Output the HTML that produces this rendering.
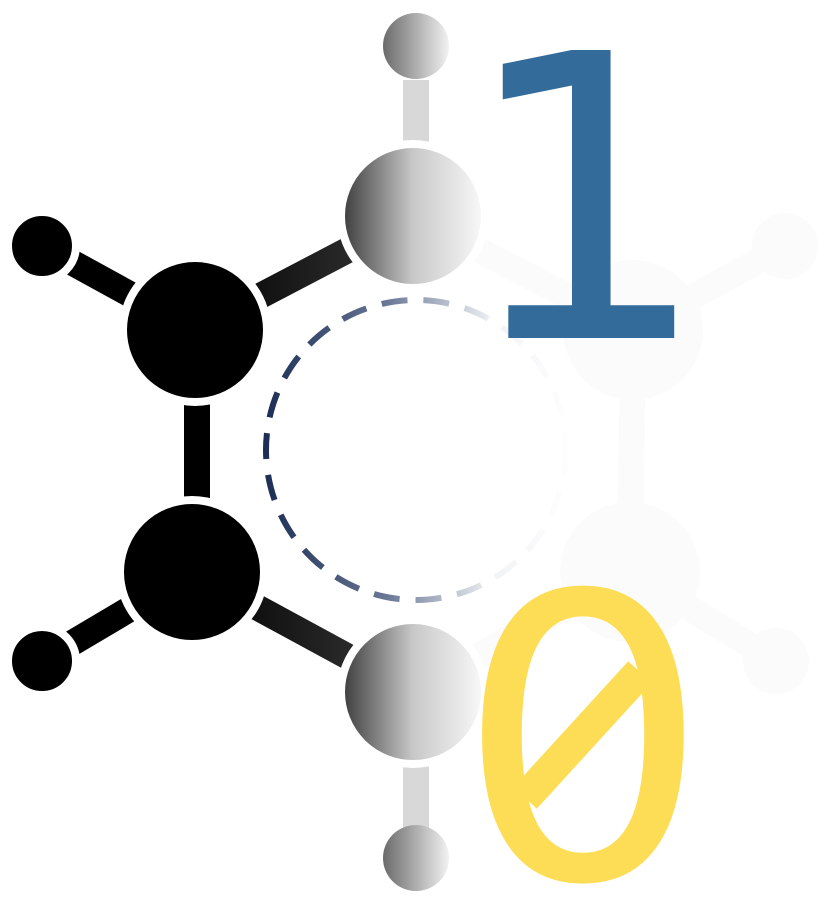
<!DOCTYPE html>
<html><head><meta charset="utf-8"><style>
html,body{margin:0;padding:0;background:#fff;width:828px;height:914px;overflow:hidden;}
svg{display:block;}
</style></head><body>
<svg width="828" height="914" viewBox="0 0 828 914" overflow="hidden">
<defs>
<linearGradient id="g1" x1="0" x2="1" y1="0" y2="0">
<stop offset="0" stop-color="#3a3a3a"/><stop offset="0.5" stop-color="#c8c8c8"/><stop offset="1" stop-color="#fafafa"/>
</linearGradient>
<linearGradient id="gH" x1="0" x2="1" y1="0" y2="0">
<stop offset="0" stop-color="#6a6a6a"/><stop offset="1" stop-color="#f2f2f2"/>
</linearGradient>
<linearGradient id="gb" x1="0" x2="1" y1="0" y2="0">
<stop offset="0" stop-color="#000"/><stop offset="1" stop-color="#3a3a3a"/>
</linearGradient>
<linearGradient id="gc" x1="265" x2="570" y1="0" y2="0" gradientUnits="userSpaceOnUse">
<stop offset="0" stop-color="#1c2e55"/><stop offset="0.4" stop-color="#6a7896"/><stop offset="0.75" stop-color="#f2f3f6"/><stop offset="1" stop-color="#fefefe"/>
</linearGradient>
</defs>
<g stroke="#fbfbfb" stroke-width="26" fill="#fbfbfb">
<line x1="413" y1="216" x2="633" y2="330"/>
<line x1="633" y1="330" x2="630" y2="572"/>
<line x1="630" y1="572" x2="413" y2="692"/>
<line x1="633" y1="330" x2="785" y2="246"/>
<line x1="630" y1="572" x2="776" y2="661"/>
<circle cx="633" cy="330" r="70" stroke="none"/>
<circle cx="630" cy="572" r="70" stroke="none"/>
<circle cx="785" cy="246" r="33" stroke="none"/>
<circle cx="776" cy="661" r="33" stroke="none"/>
</g>
<circle cx="416" cy="450" r="150" fill="none" stroke="url(#gc)" stroke-width="6" stroke-dasharray="26 16"/>
<g stroke-linecap="butt">
<line x1="416" y1="80" x2="416" y2="150" stroke="#fff" stroke-width="36"/>
<line x1="416" y1="80" x2="416" y2="150" stroke="#d8d8d8" stroke-width="26"/>
<line x1="416" y1="760" x2="416" y2="830" stroke="#fff" stroke-width="36"/>
<line x1="416" y1="760" x2="416" y2="830" stroke="#d8d8d8" stroke-width="26"/>
<line x1="42" y1="246" x2="195" y2="330" stroke="#fff" stroke-width="36"/>
<line x1="42" y1="246" x2="195" y2="330" stroke="#000" stroke-width="26"/>
<line x1="42" y1="661" x2="192" y2="572" stroke="#fff" stroke-width="36"/>
<line x1="42" y1="661" x2="192" y2="572" stroke="#000" stroke-width="26"/>
<line x1="197" y1="330" x2="197" y2="572" stroke="#fff" stroke-width="38"/>
<line x1="197" y1="330" x2="197" y2="572" stroke="#000" stroke-width="26"/>
<line x1="195" y1="330" x2="413" y2="216" stroke="#fff" stroke-width="36"/>
<line x1="195" y1="330" x2="413" y2="216" stroke="url(#gb)" stroke-width="26"/>
<line x1="192" y1="572" x2="413" y2="692" stroke="#fff" stroke-width="36"/>
<line x1="192" y1="572" x2="413" y2="692" stroke="url(#gb)" stroke-width="26"/>
</g>
<g stroke="#fff" stroke-width="8">
<circle cx="416" cy="46" r="33" fill="url(#gH)" stroke="none"/>
<circle cx="416" cy="858" r="33" fill="url(#gH)" stroke="none"/>
<circle cx="42" cy="246" r="34"/>
<circle cx="42" cy="661" r="34"/>
<circle cx="195" cy="330" r="72"/>
<circle cx="192" cy="572" r="72"/>
<circle cx="413" cy="216" r="72" fill="url(#g1)"/>
<circle cx="413" cy="692" r="72" fill="url(#g1)"/>
</g>
<text x="585" y="338" text-anchor="middle" font-family="DejaVu Sans, sans-serif" font-size="395" fill="#336b9a">1</text>
<g transform="translate(583,878) scale(1,0.985)">
<text x="0" y="0" text-anchor="middle" font-family="DejaVu Sans, sans-serif" font-size="400" fill="#fddd55">0</text>
</g>
<line x1="525" y1="798" x2="640" y2="672" stroke="#fddd55" stroke-width="32"/>
</svg>
</body></html>
